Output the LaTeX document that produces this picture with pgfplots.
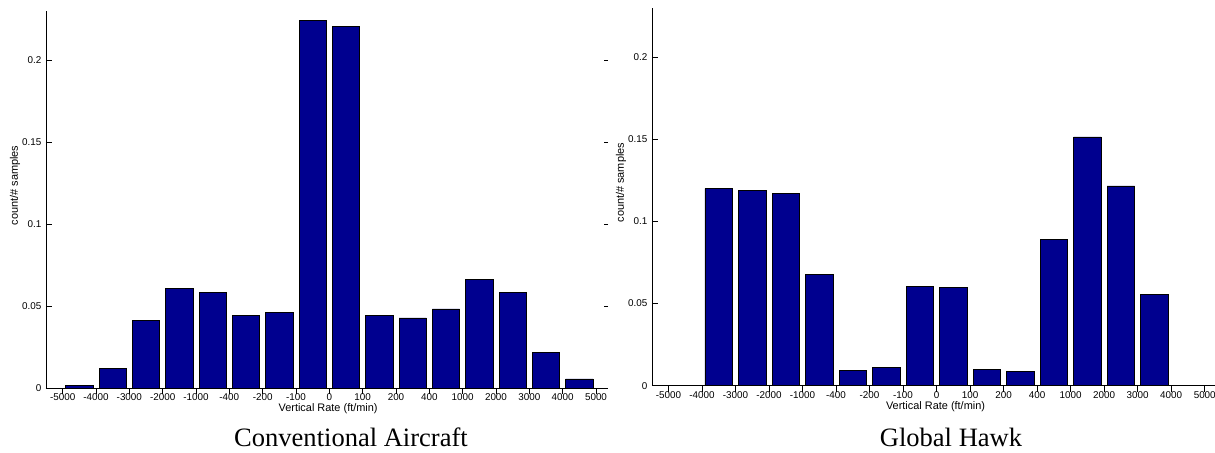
\documentclass[border=0pt]{standalone}
\usepackage{pgfplots}
\pgfplotsset{compat=1.18}
\usepackage{fontspec}
\setmainfont{Liberation Sans}
\newfontfamily\capfont{Liberation Serif}
\definecolor{barblue}{RGB}{0,0,143}
\pgfplotsset{
  hist/.style={
    scale only axis,
    ymin=0, ymax=0.23,
    axis x line=bottom, axis y line=left,
    axis line style={-, line width=0.6pt},
    xtick={0,...,16},
    xticklabels={-5000,-4000,-3000,-2000,-1000,-400,-200,-100,0,100,200,400,1000,2000,3000,4000,5000},
    ytick={0,0.05,0.1,0.15,0.2},
    yticklabels={0,0.05,0.1,0.15,0.2},
    tick align=inside,
    major tick length=4.5pt,
    tick style={black, line width=0.5pt},
    ticklabel style={font=\fontsize{7.4}{9}\selectfont},
    xticklabel style={anchor=center, yshift=-2.25pt},
    xlabel={Vertical Rate (ft/min)},
    ylabel={count/\# samples},
    every axis x label/.style={at={([yshift=-15.75pt]axis description cs:0.502,0)}, anchor=center, font=\fontsize{8.2}{10}\selectfont},
    every axis y label/.style={at={([xshift=-23.25pt]axis description cs:0,0.537)}, anchor=center, rotate=90, font=\fontsize{8.2}{10}\selectfont},
    ybar, bar width=0.82,
  },
  histbar/.style={fill=barblue, draw=black, line width=0.5pt},
}
\begin{document}
\begin{tikzpicture}
\path[use as bounding box] (0,0) rectangle (911.25pt,339.75pt);
% Left panel
\begin{axis}[hist, at={(34.5pt,48.75pt)}, anchor=south west, width=421.5pt, height=282.9pt, xmin=-0.5, xmax=16.36]
\addplot[histbar] coordinates {
(0.5,0.0014) (1.5,0.012) (2.5,0.041) (3.5,0.0608) (4.5,0.0583) (5.5,0.0445) (6.5,0.0463) (7.5,0.224)
(8.5,0.2207) (9.5,0.0445) (10.5,0.0427) (11.5,0.0482) (12.5,0.0663) (13.5,0.0583) (14.5,0.0218) (15.5,0.0055)};
\end{axis}
\begin{axis}[scale only axis, at={(34.5pt,48.75pt)}, anchor=south west, width=421.5pt, height=282.9pt, xmin=-0.5, xmax=16.36, ymin=0, ymax=0.23,
  hide x axis, axis y line=right, y axis line style={draw=none},
  ytick={0.05,0.1,0.15,0.2}, yticklabels={}, tick align=inside, major tick length=3pt, tick style={black, line width=0.5pt}]
\addplot[draw=none] coordinates {(0,0)};
\end{axis}
% Right panel
\begin{axis}[hist, at={(489pt,50.48pt)}, anchor=south west, width=423.6pt, height=283.6pt, xmin=-0.49, xmax=16.36]
\addplot[histbar] coordinates {
(0.5,0) (1.5,0.1198) (2.5,0.1186) (3.5,0.1168) (4.5,0.0679) (5.5,0.0091) (6.5,0.011) (7.5,0.0605)
(8.5,0.060) (9.5,0.0097) (10.5,0.0087) (11.5,0.089) (12.5,0.1513) (13.5,0.1215) (14.5,0.0553) (15.5,0)};
\end{axis}
\node[anchor=base, font=\capfont\fontsize{19.9}{24}\selectfont] at (263.25pt,4.5pt) {Conventional Aircraft};
\node[anchor=base, font=\capfont\fontsize{19.9}{24}\selectfont] at (713.25pt,4.5pt) {Global Hawk};
\end{tikzpicture}
\end{document}
